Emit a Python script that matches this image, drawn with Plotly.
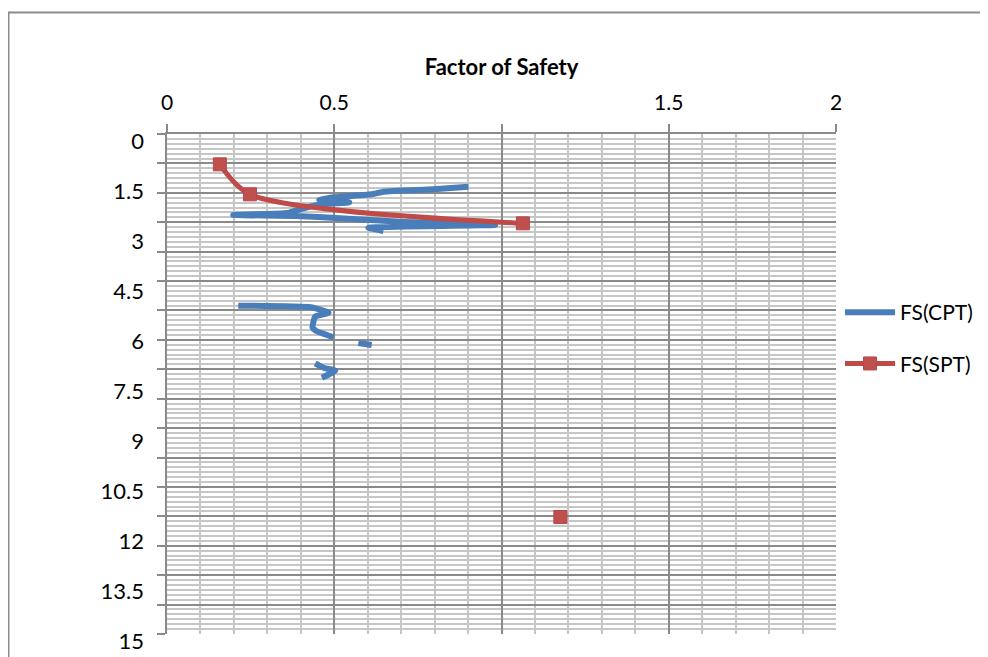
import plotly.graph_objects as go

# ---- data ----
cpt_fs = [0.901, 0.797, 0.647, 0.617, 0.50, 0.455, 0.545, 0.46, 0.40, 0.36, 0.198,
          0.388, 0.517, 0.697, 0.981, 0.602, 0.647,
          None,
          0.213, 0.43, 0.483, 0.443, 0.435, 0.445, 0.498,
          None,
          0.572, 0.612,
          None,
          0.443, 0.47, 0.503, 0.463]
cpt_depth = [1.58, 1.66, 1.73, 1.80, 1.90, 1.97, 2.05, 2.11, 2.25, 2.37, 2.43,
             2.46, 2.53, 2.63, 2.73, 2.81, 2.91,
             None,
             5.15, 5.20, 5.36, 5.48, 5.80, 5.90, 6.10,
             None,
             6.27, 6.33,
             None,
             6.88, 7.02, 7.10, 7.31]

spt_fs = [0.158, 0.248, 1.064, None, 1.176]
spt_depth = [0.91, 1.81, 2.68, None, 11.49]

y_labels = [0, 1.5, 3, 4.5, 6, 7.5, 9, 10.5, 12, 13.5, 15]
x_ticks = [0, 0.5, 1, 1.5, 2]
x_ticktext = ["0", "0.5", "", "1.5", "2"]

FONT = "Lato"
MAJOR = "#8a8a8a"
MINOR = "#c6c6c6"

# page has an 8px body margin; figure coords = page coords - 8
W, H = 980, 649
L, R, T, B = 159, 828, 126, 626
pw, ph = R - L, B - T

fig = go.Figure()
fig.add_trace(go.Scatter(
    x=cpt_fs, y=cpt_depth, name="FS(CPT)", mode="lines",
    line=dict(color="#4a7ebb", width=6, shape="spline", smoothing=0.4),
    connectgaps=False, legendgroup="a"))
fig.add_trace(go.Scatter(
    x=spt_fs, y=spt_depth, name="FS(SPT)", mode="lines+markers",
    line=dict(color="#be4b48", width=5, shape="spline", smoothing=0.8),
    marker=dict(symbol="square", size=13, color="#c0504d",
                line=dict(color="#b8474a", width=1)),
    connectgaps=False, legendgroup="b"))
# empty trace to anchor the label axis
fig.add_trace(go.Scatter(x=[], y=[], yaxis="y2", showlegend=False, hoverinfo="skip"))

major_y = 15 / 17

fig.update_layout(
    width=W, height=H,
    margin=dict(l=L, r=W - R, t=T, b=H - B, autoexpand=False),
    paper_bgcolor="white", plot_bgcolor="white",
    font=dict(family=FONT, size=21, color="black"),
    title=dict(text="Factor of Safety", x=0.5, xref="paper", xanchor="center",
               y=1 - 59 / H, yanchor="middle",
               font=dict(family=FONT, size=22, weight="bold", color="black")),
    xaxis=dict(side="top", range=[0, 2], tickvals=x_ticks, ticktext=x_ticktext,
               ticks="outside", ticklen=8, tickwidth=2, tickcolor=MAJOR,
               ticklabelstandoff=6, automargin=False,
               showgrid=True, gridcolor=MAJOR, gridwidth=2,
               minor=dict(dtick=0.1, showgrid=True, gridcolor=MINOR, gridwidth=2),
               showline=True, linecolor=MAJOR, linewidth=2, zeroline=False,
               tickfont=dict(family=FONT, size=21)),
    yaxis=dict(range=[15, 0], tick0=0, dtick=major_y, showticklabels=False,
               ticks="outside", ticklen=8, tickwidth=2, tickcolor=MAJOR,
               automargin=False,
               showgrid=True, gridcolor=MAJOR, gridwidth=2,
               minor=dict(tick0=0, dtick=major_y / 6, showgrid=True,
                          gridcolor=MINOR, gridwidth=1.5),
               showline=True, linecolor=MAJOR, linewidth=2, zeroline=False),
    yaxis2=dict(range=[15, 0], overlaying="y", side="left", tickvals=y_labels,
                ticktext=[("%g" % v) for v in y_labels],
                ticks="", showgrid=False, zeroline=False, showline=False,
                ticklabelstandoff=22, ticklabelshift=-7, automargin=False,
                tickfont=dict(family=FONT, size=22)),
    legend=dict(x=1.006, xanchor="left", y=(B - 330) / ph, yanchor="middle",
                traceorder="grouped", tracegroupgap=21,
                font=dict(family=FONT, size=21), itemwidth=50,
                bgcolor="rgba(0,0,0,0)"),
    shapes=[dict(type="rect", xref="paper", yref="paper",
                 x0=(0.5 - L) / pw, x1=(1010 - L) / pw,
                 y0=(B - 680) / ph, y1=(B - 4.5) / ph,
                 line=dict(color="#8c8c8c", width=2), layer="below")],
)

fig.write_html("out.html")
